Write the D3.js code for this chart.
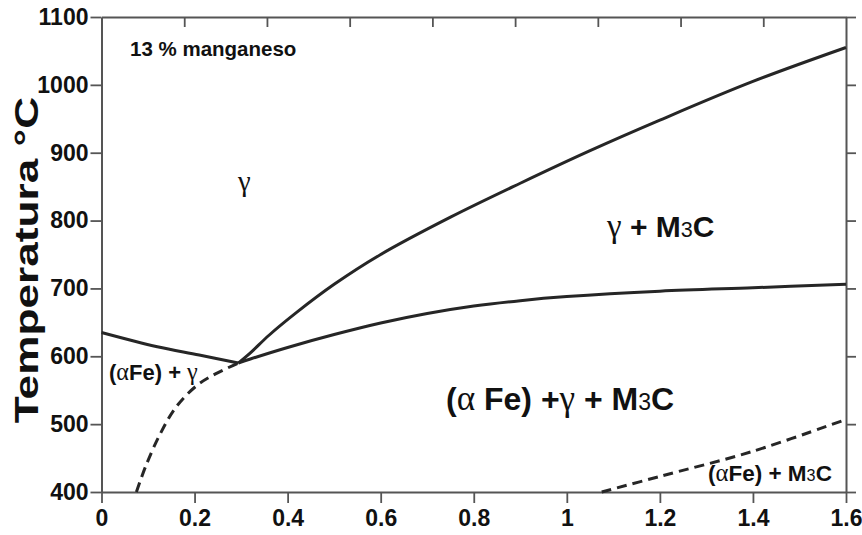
<!DOCTYPE html>
<html><head><meta charset="utf-8">
<script src="https://cdn.jsdelivr.net/npm/d3@7"></script>
<style>
html,body{margin:0;padding:0;background:#fff;}
svg{display:block;font-family:"Liberation Sans",Arial,sans-serif;}
</style></head>
<body><svg id="c" width="862" height="535"></svg>
<script>
// ---- data ----
const xTicks = [0, 0.2, 0.4, 0.6, 0.8, 1, 1.2, 1.4, 1.6];
const xTickLabels = ["0", "0.2", "0.4", "0.6", "0.8", "1", "1.2", "1.4", "1.6"];
const yTicks = [400, 500, 600, 700, 800, 900, 1000, 1100];
const topTickDivisions = 9;
// boundary gamma / gamma+M3C
const upperX = [0.294, 0.32, 0.36, 0.42, 0.5, 0.6, 0.75, 0.9, 1.05, 1.2, 1.4, 1.6];
const upperT = [590, 605, 631, 665, 706, 750, 805, 855, 903, 948, 1005, 1055];
// boundary gamma+M3C / (aFe)+gamma+M3C
const lowerX = [0.294, 0.32, 0.4, 0.5, 0.6, 0.7, 0.8, 0.9, 1.0, 1.2, 1.4, 1.6];
const lowerT = [590, 596, 613, 632, 649, 663, 674, 682, 688, 696, 701, 706];
// left boundary gamma / (aFe)+gamma
const leftX = [0, 0.12, 0.21, 0.294];
const leftT = [635, 614, 602, 590];
// dashed (aFe)+gamma lower boundary
const dashLX = [0.075, 0.095, 0.125, 0.16, 0.205, 0.245, 0.294];
const dashLT = [400, 438, 484, 525, 557, 574, 590];
// dashed (aFe)+M3C boundary
const dashRX = [1.075, 1.2, 1.4, 1.6];
const dashRT = [400, 423, 460, 507];

// ---- layout ----
const L = 101.5, R = 846, T = 17, B = 492;
const svg = d3.select("#c");
const x = d3.scaleLinear().domain([0, 1.6]).range([L, R]);
const y = d3.scaleLinear().domain([400, 1100]).range([B, T]);
const xTop = d3.scaleLinear().domain([0, topTickDivisions]).range([L, R]);
const axisCol = "#555";
const lineCol = "#262626";

// axes
const gB = svg.append("g").attr("transform", `translate(0,${B})`)
  .call(d3.axisBottom(x).tickValues(xTicks).tickFormat((d, i) => xTickLabels[i]).tickSize(11).tickSizeOuter(0));
const gL = svg.append("g").attr("transform", `translate(${L},0)`)
  .call(d3.axisLeft(y).tickValues(yTicks).tickFormat(d3.format("d")).tickSize(11).tickSizeOuter(0));
const gR = svg.append("g").attr("transform", `translate(${R},0)`)
  .call(d3.axisRight(y).tickValues(yTicks).tickFormat("").tickSize(10).tickSizeOuter(0));
const gT = svg.append("g").attr("transform", `translate(0,${T})`)
  .call(d3.axisBottom(xTop).tickValues(d3.range(1, topTickDivisions)).tickFormat("").tickSize(10).tickSizeOuter(0));
[gB, gL, gR, gT].forEach(g => {
  g.selectAll("path.domain").attr("stroke", axisCol).attr("stroke-width", 2);
  g.selectAll(".tick line").attr("stroke", axisCol).attr("stroke-width", 1.8);
  g.selectAll(".tick text").attr("fill", "#111").attr("font-family", "'Liberation Sans',Arial,sans-serif")
    .attr("font-weight", "bold").attr("font-size", 23);
});
gB.selectAll(".tick text").attr("dy", "1.0em").attr("y", 11);
gL.selectAll(".tick text").attr("x", -13);

// y axis title
svg.append("text").attr("transform", "translate(38,260) rotate(-90) scale(1.3,1)")
  .attr("text-anchor", "middle").attr("font-weight", "bold").attr("font-size", 34)
  .attr("fill", "#111").text("Temperatura °C");

// curves
function draw(xs, ts, dashed) {
  const pts = xs.map((v, i) => [x(v), y(ts[i])]);
  svg.append("path").attr("d", d3.line().curve(d3.curveCatmullRom.alpha(0.5))(pts))
    .attr("fill", "none").attr("stroke", lineCol).attr("stroke-width", 3)
    .attr("stroke-dasharray", dashed ? "10,6" : null).attr("stroke-linecap", "butt");
}
draw(upperX, upperT, false);
draw(lowerX, lowerT, false);
draw(leftX, leftT, false);
draw(dashLX, dashLT, true);
draw(dashRX, dashRT, true);

// labels
const greek = "'Liberation Serif','Times New Roman',serif";
function label(px, py, size, parts, anchor) {
  const t = svg.append("text").attr("x", px).attr("y", py).attr("font-size", size)
    .attr("fill", "#111").attr("text-anchor", anchor || "start");
  parts.forEach(p => {
    const s = t.append("tspan").text(p.t);
    if (p.g) s.attr("font-family", greek).attr("font-weight", "normal").attr("font-size", size * 1.1);
    else if (p.sub) s.attr("font-size", size * 0.72).attr("font-weight", "normal");
    else s.attr("font-weight", "bold");
  });
  return t;
}
label(130, 56, 20.5, [{t: "13 % manganeso"}]);
label(238, 191, 26, [{t: "γ", g: 1}]);
label(607, 237, 30, [{t: "γ", g: 1}, {t: " + M"}, {t: "3", sub: 1}, {t: "C"}]);
label(446, 410, 32, [{t: "("}, {t: "α", g: 1}, {t: " Fe) +"}, {t: "γ", g: 1}, {t: " + M"}, {t: "3", sub: 1}, {t: "C"}]);
label(109, 380, 22, [{t: "("}, {t: "α", g: 1}, {t: "Fe) + "}, {t: "γ", g: 1}]);
label(708, 481, 22.5, [{t: "("}, {t: "α", g: 1}, {t: "Fe) + M"}, {t: "3", sub: 1}, {t: "C"}]);
</script></body></html>
